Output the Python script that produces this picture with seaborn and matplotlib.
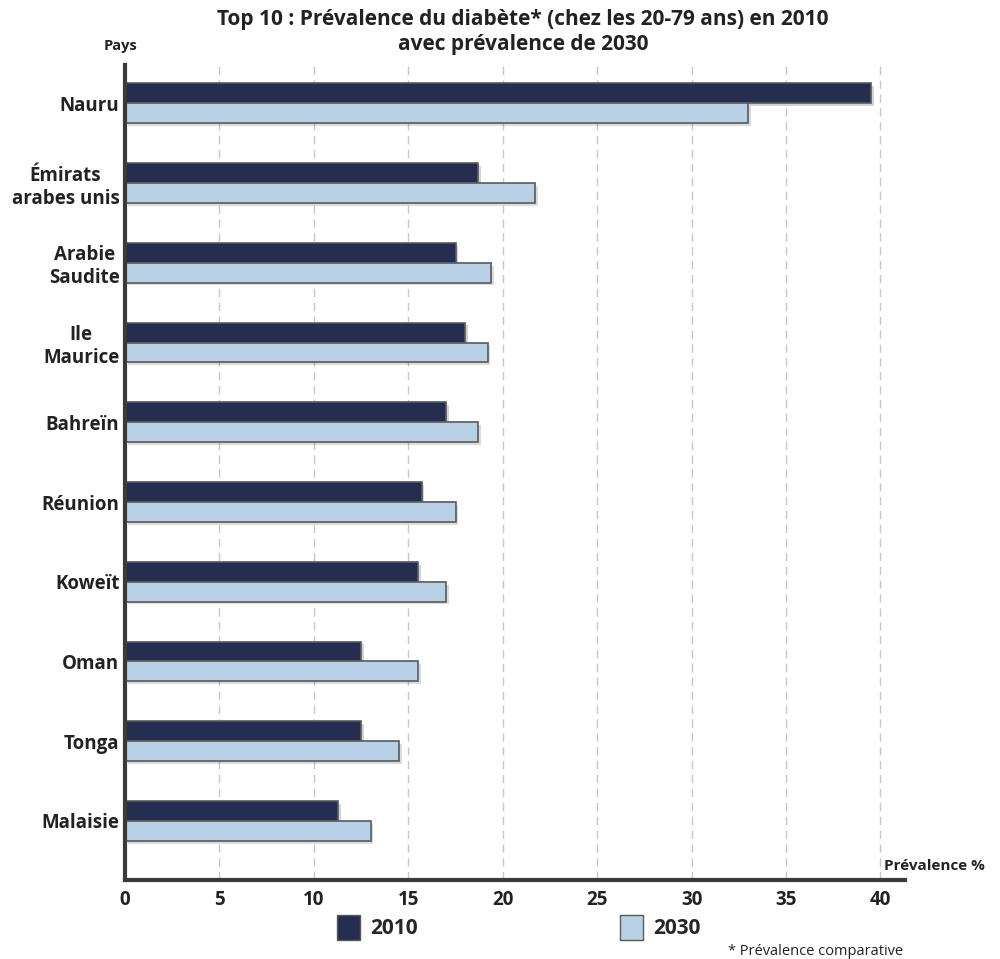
import matplotlib
matplotlib.use("Agg")
import matplotlib.pyplot as plt
import matplotlib.patheffects as pe
from matplotlib.patches import Patch
import seaborn as sns
import pandas as pd

# Data: diabetes prevalence (20-79 years), 2010 and projected 2030
countries = ["Nauru", "Émirats\narabes unis", "Arabie\nSaudite", "Ile\nMaurice", "Bahreïn",
             "Réunion", "Koweït", "Oman", "Tonga", "Malaisie"]
prev_2010 = [39.5, 18.7, 17.5, 18.0, 17.0, 15.7, 15.5, 12.5, 12.5, 11.3]
prev_2030 = [33.0, 21.7, 19.4, 19.2, 18.7, 17.5, 17.0, 15.5, 14.5, 13.0]
years = ["2010", "2030"]
x_ticks = [0, 5, 10, 15, 20, 25, 30, 35, 40]

df = pd.DataFrame({
    "Pays": countries * 2,
    "Prévalence": prev_2010 + prev_2030,
    "Année": [years[0]] * len(countries) + [years[1]] * len(countries),
})

sns.set_theme(style="white")
plt.rcParams["font.family"] = ["Open Sans", "DejaVu Sans"]

dark = "#252E50"
light = "#B9D1E6"
edge = "#5A5A5A"
axis_col = "#3A3A3A"

fig = plt.figure(figsize=(10, 9.59), dpi=100)
ax = fig.add_axes([0.125, 0.0824, 0.78, 0.8498])

sns.barplot(data=df, y="Pays", x="Prévalence", hue="Année", order=countries,
            hue_order=years, palette=[dark, light], orient="h", width=0.5,
            edgecolor=edge, linewidth=1.2, legend=False, ax=ax, saturation=1)

for p in ax.patches:
    p.set_path_effects([pe.SimplePatchShadow(offset=(2, -2), alpha=0.18), pe.Normal()])

ax.set_xlim(0, 41.3)
ax.set_ylim(9.74, -0.48)
ax.set_xticks(x_ticks)
ax.set_xticklabels([str(t) for t in x_ticks], fontsize=13.5, fontweight="bold", color="#222222")
ax.tick_params(axis="x", length=0, pad=7)
ax.tick_params(axis="y", length=0, pad=4)
for lbl in ax.get_yticklabels():
    lbl.set_fontsize(13.5)
    lbl.set_fontweight("bold")
    lbl.set_color("#222222")
    lbl.set_multialignment("center")
ax.set_xlabel("")
ax.set_ylabel("")

ax.xaxis.grid(True, linestyle=(0, (6, 4)), color="#C8C8C8", linewidth=1)
ax.set_axisbelow(True)

for s in ["top", "right"]:
    ax.spines[s].set_visible(False)
for s in ["left", "bottom"]:
    ax.spines[s].set_color(axis_col)
    ax.spines[s].set_linewidth(3)

fig.suptitle("Top 10 : Prévalence du diabète* (chez les 20-79 ans) en 2010\navec prévalence de 2030",
             x=0.523, y=0.991, fontsize=15, fontweight="bold", color="#222222", linespacing=1.3)
fig.text(0.104, 0.948, "Pays", fontsize=10.5, fontweight="bold", color="#222222")
fig.text(0.884, 0.093, "Prévalence %", fontsize=11, fontweight="bold", color="#222222")
fig.text(0.728, 0.004, "* Prévalence comparative", fontsize=10.5, color="#222222")

handles = [Patch(facecolor=dark, edgecolor=edge, label=years[0]),
           Patch(facecolor=light, edgecolor=edge, label=years[1])]
fig.legend(handles=handles, loc="lower left", bbox_to_anchor=(0.318, 0.0), ncol=2,
           frameon=False, handlelength=1.1, handleheight=1.5, handletextpad=0.5,
           columnspacing=9.7, prop={"size": 15, "weight": "bold"})

fig.savefig("out.png", dpi=100)
